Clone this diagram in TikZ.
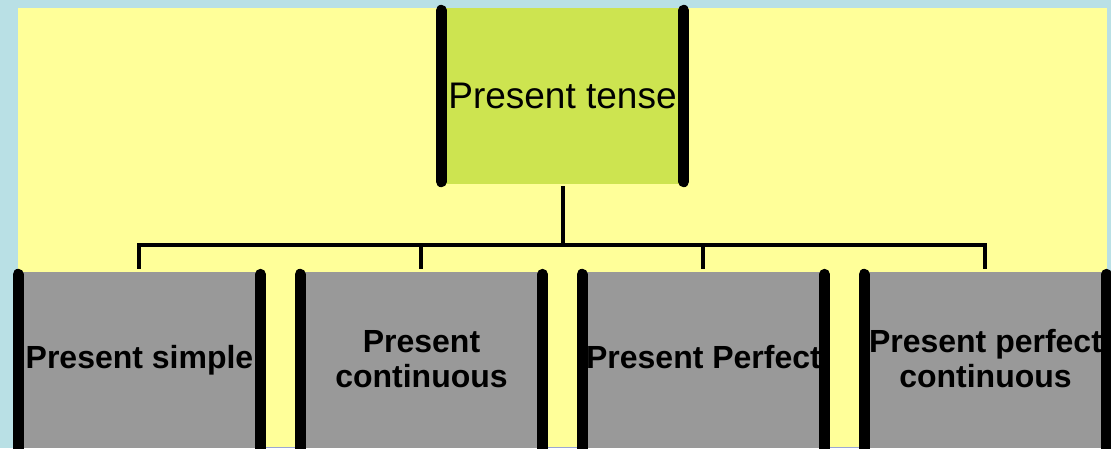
\documentclass[tikz,border=0pt]{standalone}
\usepackage{fontspec}
\setmainfont{Liberation Sans}
\usetikzlibrary{calc}
\definecolor{sky}{HTML}{B9E0E5}
\definecolor{pad}{HTML}{FFFF99}
\definecolor{leaf}{HTML}{CDE450}
\definecolor{slate}{HTML}{999999}
\definecolor{rim}{HTML}{9AA6D6}
\tikzset{
  headbox/.style={fill=leaf, inner sep=0pt, minimum width=242pt, minimum height=176pt,
    font=\fontsize{37}{41}\selectfont},
  tensebox/.style={fill=slate, inner sep=0pt, minimum width=242pt, minimum height=176pt},
  tenselabel/.style={inner sep=0pt, align=center, anchor=base,
    font=\fontsize{32}{35}\selectfont\bfseries},
  sidebar/.style={line width=11pt, line cap=round, black},
  link/.style={line width=4pt, black}
}
\begin{document}
\begin{tikzpicture}[x=1pt,y=-1pt]
\useasboundingbox (0,0) rectangle (1111,448);
\clip (0,0) rectangle (1111,448);
% background and panel
\fill[sky] (0,0) rectangle (1111,448);
\fill[pad] (18,8) rectangle (1107,448);
\draw[rim, line width=1pt] (18,447.5) -- (1111,447.5);

% head box
\node[headbox] (top) at (562.5,96) {Present tense};
\draw[sidebar] ($(top.north west)+(0,2.5)$) -- ($(top.south west)+(0,-2.5)$);
\draw[sidebar] ($(top.north east)+(0,2.5)$) -- ($(top.south east)+(0,-2.5)$);

% the four tenses
\node[tensebox] (b1) at (139.25,360) {};
\node[tensebox] (b2) at (421.25,360) {};
\node[tensebox] (b3) at (703.25,360) {};
\node[tensebox] (b4) at (985.25,360) {};
\foreach \b in {b1,b2,b3,b4}{
  \draw[sidebar] ($(\b.north west)+(0,2.5)$) -- ($(\b.south west)+(0,20)$);
  \draw[sidebar] ($(\b.north east)+(0,2.5)$) -- ($(\b.south east)+(0,20)$);
}

% connectors
\coordinate (bus) at (0,245);
\draw[link] ($(top.south)+(0,2)$) -- (top.south |- bus);
\draw[link] ([xshift=-2pt]b1.north |- bus) -- ([xshift=2pt]b4.north |- bus);
\foreach \b in {b1,b2,b3,b4}{
  \draw[link] (\b.north |- bus) -- ($(\b.north)+(0,-3)$);
}

% labels (base anchor sits on the last line)
\node[tenselabel] (l1) at (139.5,368) {Present simple};
\node[tenselabel] (l2) at (421.5,387) {Present\\continuous};
\node[tenselabel] (l3) at (703.5,368) {Present Perfect};
\node[tenselabel] (l4) at (985.5,387) {Present perfect\\continuous};
\end{tikzpicture}
\end{document}
